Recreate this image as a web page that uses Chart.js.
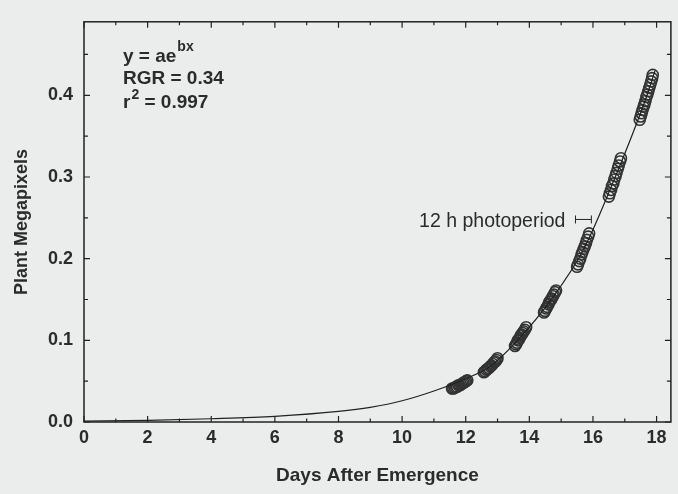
<!DOCTYPE html>
<html>
<head>
<meta charset="utf-8">
<script src="https://cdn.jsdelivr.net/npm/chart.js@4.4.0/dist/chart.umd.min.js"></script>
<style>
  html, body { margin: 0; padding: 0; background: #eaedeb; }
  canvas { display: block; }
</style>
</head>
<body>
<canvas id="chart" width="678" height="494"></canvas>
<script>
// axis ticks
const xTicks = [0, 2, 4, 6, 8, 10, 12, 14, 16, 18];
const xMinor = [1, 3, 5, 7, 9, 11, 13, 15, 17];
const yTicks = [0, 0.1, 0.2, 0.3, 0.4];
const yMinor = [0.05, 0.15, 0.25, 0.35, 0.45];

// measured plants, one group per 12 h photoperiod (day, megapixels)
const day12 = [[11.57, 0.041], [11.61, 0.041], [11.65, 0.042], [11.69, 0.043], [11.73, 0.043], [11.77, 0.045],
  [11.81, 0.045], [11.85, 0.046], [11.89, 0.047], [11.93, 0.048], [11.97, 0.049], [12.01, 0.050], [12.05, 0.051]];
const day13 = [[12.57, 0.061], [12.61, 0.062], [12.65, 0.064], [12.69, 0.065], [12.73, 0.066], [12.77, 0.068],
  [12.81, 0.069], [12.85, 0.071], [12.89, 0.073], [12.93, 0.074], [12.97, 0.076], [13.00, 0.078]];
const day14 = [[13.55, 0.093], [13.58, 0.095], [13.61, 0.097], [13.64, 0.100], [13.67, 0.101], [13.70, 0.103],
  [13.73, 0.106], [13.76, 0.107], [13.79, 0.109], [13.82, 0.111], [13.86, 0.113], [13.90, 0.116]];
const day15 = [[14.46, 0.134], [14.49, 0.136], [14.53, 0.139], [14.56, 0.141], [14.60, 0.144], [14.63, 0.147],
  [14.67, 0.149], [14.70, 0.151], [14.74, 0.154], [14.77, 0.156], [14.81, 0.159], [14.84, 0.161]];
const day16 = [[15.50, 0.190], [15.53, 0.193], [15.57, 0.197], [15.60, 0.200], [15.64, 0.205], [15.67, 0.208],
  [15.71, 0.212], [15.74, 0.215], [15.78, 0.219], [15.81, 0.223], [15.85, 0.227], [15.88, 0.231]];
const day17 = [[16.50, 0.276], [16.53, 0.280], [16.57, 0.284], [16.60, 0.289], [16.64, 0.292], [16.67, 0.297],
  [16.71, 0.301], [16.74, 0.305], [16.78, 0.310], [16.81, 0.314], [16.85, 0.319], [16.88, 0.323]];
const day18 = [[17.47, 0.370], [17.50, 0.374], [17.53, 0.378], [17.56, 0.382], [17.59, 0.386], [17.62, 0.389],
  [17.65, 0.393], [17.68, 0.398], [17.71, 0.401], [17.74, 0.405], [17.77, 0.409], [17.80, 0.413],
  [17.83, 0.417], [17.86, 0.421], [17.88, 0.425]];

// fitted curve y = ae^bx
const fitDays = [0, 2, 4, 6, 8, 9, 10, 11, 12, 12.8, 13.7, 14.65, 15.7, 16.7, 17.68, 17.95];
const fitMpx = [0.001, 0.002, 0.004, 0.007, 0.013, 0.018, 0.026, 0.038, 0.053, 0.069, 0.103, 0.148, 0.211, 0.300, 0.398, 0.430];

const photoperiod = [15.45, 15.95]; // 12 h bracket
const photoY = 0.248;

const ink = "#222";
const textInk = "#2b2b2b";
const family = '"Liberation Sans", Arial, Helvetica, sans-serif';

const points = [day12, day13, day14, day15, day16, day17, day18].flat().map(p => ({ x: p[0], y: p[1] }));
const curve = fitDays.map((d, i) => ({ x: d, y: fitMpx[i] }));

const frameTicks = {
    id: "frameTicks",
    afterDatasetsDraw(chart) {
        const { ctx, chartArea: a, scales: { x, y } } = chart;
        ctx.save();
        ctx.strokeStyle = ink;
        ctx.lineWidth = 1.5;
        ctx.strokeRect(a.left, a.top, a.right - a.left, a.bottom - a.top);

        ctx.lineWidth = 1.2;
        ctx.beginPath();
        const xMark = (v, len) => {
            const px = x.getPixelForValue(v);
            ctx.moveTo(px, a.bottom); ctx.lineTo(px, a.bottom - len);
            ctx.moveTo(px, a.top); ctx.lineTo(px, a.top + len);
        };
        const yMark = (v, len) => {
            const py = y.getPixelForValue(v);
            ctx.moveTo(a.left, py); ctx.lineTo(a.left + len, py);
            ctx.moveTo(a.right, py); ctx.lineTo(a.right - len, py);
        };
        xTicks.forEach(v => xMark(v, 6));
        xMinor.forEach(v => xMark(v, 3.5));
        yTicks.forEach(v => yMark(v, 6));
        yMinor.forEach(v => yMark(v, 4));
        ctx.stroke();

        // 12 h bracket
        const bx0 = x.getPixelForValue(photoperiod[0]);
        const bx1 = x.getPixelForValue(photoperiod[1]);
        const by = y.getPixelForValue(photoY);
        ctx.lineWidth = 1;
        ctx.beginPath();
        ctx.moveTo(bx0, by); ctx.lineTo(bx1, by);
        ctx.moveTo(bx0, by - 4); ctx.lineTo(bx0, by + 4);
        ctx.moveTo(bx1, by - 4); ctx.lineTo(bx1, by + 4);
        ctx.stroke();

        // equation block
        ctx.fillStyle = textInk;
        ctx.textBaseline = "alphabetic";
        const tx = a.left + 39;
        ctx.font = "bold 19px " + family;
        ctx.fillText("y = ae", tx, 62);
        let w = ctx.measureText("y = ae").width;
        ctx.font = "bold 14px " + family;
        ctx.fillText("bx", tx + w + 1, 51);
        ctx.font = "bold 19px " + family;
        ctx.fillText("RGR = 0.34", tx, 84);
        ctx.fillText("r", tx, 108);
        w = ctx.measureText("r").width;
        ctx.font = "bold 14px " + family;
        ctx.fillText("2", tx + w + 1, 99);
        const w2 = ctx.measureText("2").width;
        ctx.font = "bold 19px " + family;
        ctx.fillText(" = 0.997", tx + w + w2 + 1, 108);

        ctx.font = "19.5px " + family;
        ctx.textAlign = "right";
        ctx.fillText("12 h photoperiod", bx0 - 10, by + 8);
        ctx.restore();
    }
};

new Chart(document.getElementById("chart").getContext("2d"), {
    data: {
        datasets: [
            {
                type: "line",
                data: curve,
                borderColor: ink,
                borderWidth: 1.2,
                pointRadius: 0,
                cubicInterpolationMode: "monotone",
                fill: false
            },
            {
                type: "scatter",
                data: points,
                pointStyle: "circle",
                pointRadius: 5.5,
                borderColor: "#333",
                borderWidth: 1.6,
                backgroundColor: "rgba(0,0,0,0)"
            }
        ]
    },
    options: {
        responsive: false,
        animation: false,
        layout: { padding: { top: 13, right: 7, left: 0, bottom: 0 } },
        plugins: {
            legend: { display: false },
            tooltip: { enabled: false }
        },
        scales: {
            x: {
                type: "linear",
                min: 0,
                max: 18.45,
                afterBuildTicks: s => { s.ticks = xTicks.map(v => ({ value: v })); },
                afterFit: s => { s.height = 72; },
                ticks: {
                    color: textInk,
                    font: { family, size: 18, weight: "bold" },
                    padding: 5,
                    maxRotation: 0,
                    autoSkip: false
                },
                grid: { display: false, drawTicks: false },
                border: { display: false },
                title: {
                    display: true,
                    text: "Days After Emergence",
                    color: textInk,
                    font: { family, size: 19, weight: "bold" },
                    padding: { top: 0, bottom: 7 }
                }
            },
            y: {
                type: "linear",
                min: 0,
                max: 0.49,
                afterBuildTicks: s => { s.ticks = yTicks.map(v => ({ value: v })); },
                afterFit: s => { s.width = 84; },
                ticks: {
                    color: textInk,
                    font: { family, size: 18, weight: "bold" },
                    padding: 11,
                    callback: v => v.toFixed(1)
                },
                grid: { display: false, drawTicks: false },
                border: { display: false },
                title: {
                    display: true,
                    text: "Plant Megapixels",
                    color: textInk,
                    font: { family, size: 18, weight: "bold" },
                    padding: { top: 11, bottom: 0 }
                }
            }
        }
    },
    plugins: [frameTicks]
});
</script>
</body>
</html>
